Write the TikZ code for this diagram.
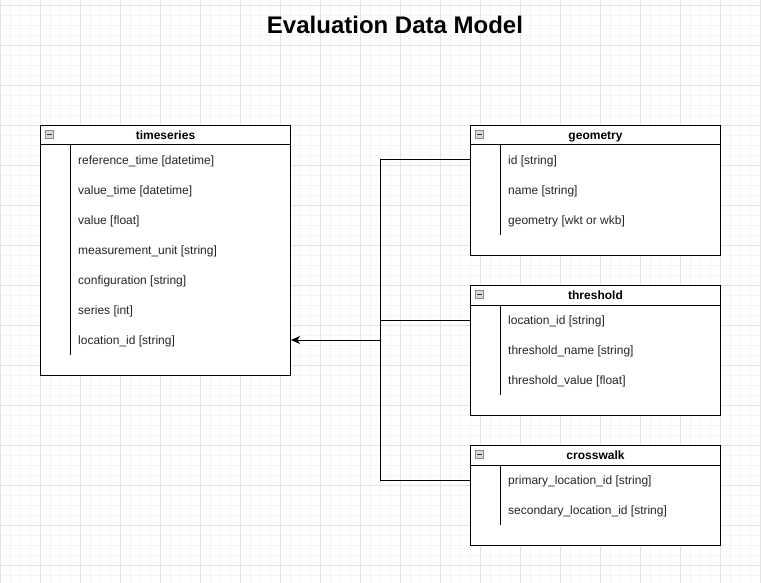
\documentclass[tikz,border=0pt]{standalone}
\usepackage{fontspec}
\setmainfont{Liberation Sans}
\usetikzlibrary{positioning, arrows.meta}

\begin{document}
\begin{tikzpicture}[x=1pt, y=-1pt,
	minorgrid/.style={draw=black!4, line width=0.8pt},
	majorgrid/.style={draw=black!11, line width=0.8pt},
	entity/.style={draw, line width=1pt, fill=white, anchor=north west, inner sep=0pt, minimum width=250pt},
	header/.style={text height=10pt, text depth=0.6pt, inner sep=0pt, font=\bfseries\fontsize{12}{14}\selectfont},
	field/.style={anchor=west, text height=10pt, text depth=0.6pt, inner sep=0pt, text=black!85, font=\fontsize{12}{14}\selectfont},
	fold/.style={draw=black!45, fill=black!15, line width=0.6pt, inner sep=0pt, minimum size=8pt,
		path picture={\draw[line width=1.2pt, black!80] ([xshift=1.8pt]path picture bounding box.west) -- ([xshift=-1.8pt]path picture bounding box.east);}},
	link/.style={line width=1pt}
	]

	\useasboundingbox (0,0) rectangle (761,583);
	\fill[white] (0,0) rectangle (761,583);

	% grid
	\foreach \x in {10,20,...,760} \draw[minorgrid] (\x,0) -- (\x,583);
	\foreach \y in {5,15,...,583} \draw[minorgrid] (0,\y) -- (761,\y);
	\foreach \x in {0,40,...,760} \draw[majorgrid] (\x,0) -- (\x,583);
	\foreach \y in {5,45,...,583} \draw[majorgrid] (0,\y) -- (761,\y);

	\node[font=\bfseries\fontsize{24}{28}\selectfont] (heading) at (395,25) {Evaluation Data Model};

	% timeseries
	\node[entity, minimum height=250pt] (ts) at (40,125) {};
	\draw[link] ([yshift=-20pt]ts.north west) -- ([yshift=-20pt]ts.north east);
	\draw[link] ([xshift=30pt, yshift=-20pt]ts.north west) -- ++(0,210);
	\node[header] (ts-head) at ([yshift=-10pt]ts.north) {timeseries};
	\node[fold] at ([xshift=9.5pt, yshift=-9.5pt]ts.north west) {};
	\foreach \name [count=\i] in {{reference\_time [datetime]}, {value\_time [datetime]}, {value [float]},
		{measurement\_unit [string]}, {configuration [string]}, {series [int]}, {location\_id [string]}}
		\node[field] (ts-\i) at (78, 130+30*\i) {\name};

	% geometry
	\node[entity, minimum height=130pt] (geo) at (470,125) {};
	\draw[link] ([yshift=-20pt]geo.north west) -- ([yshift=-20pt]geo.north east);
	\draw[link] ([xshift=30pt, yshift=-20pt]geo.north west) -- ++(0,90);
	\node[header] (geo-head) at ([yshift=-10pt]geo.north) {geometry};
	\node[fold] at ([xshift=9.5pt, yshift=-9.5pt]geo.north west) {};
	\foreach \name [count=\i] in {{id [string]}, {name [string]}, {geometry [wkt or wkb]}}
		\node[field] (geo-\i) at (508, 130+30*\i) {\name};

	% threshold
	\node[entity, minimum height=130pt] (thr) at (470,285) {};
	\draw[link] ([yshift=-20pt]thr.north west) -- ([yshift=-20pt]thr.north east);
	\draw[link] ([xshift=30pt, yshift=-20pt]thr.north west) -- ++(0,90);
	\node[header] (thr-head) at ([yshift=-10pt]thr.north) {threshold};
	\node[fold] at ([xshift=9.5pt, yshift=-9.5pt]thr.north west) {};
	\foreach \name [count=\i] in {{location\_id [string]}, {threshold\_name [string]}, {threshold\_value [float]}}
		\node[field] (thr-\i) at (508, 290+30*\i) {\name};

	% crosswalk
	\node[entity, minimum height=100pt] (cw) at (470,445) {};
	\draw[link] ([yshift=-20pt]cw.north west) -- ([yshift=-20pt]cw.north east);
	\draw[link] ([xshift=30pt, yshift=-20pt]cw.north west) -- ++(0,60);
	\node[header] (cw-head) at ([yshift=-10pt]cw.north) {crosswalk};
	\node[fold] at ([xshift=9.5pt, yshift=-9.5pt]cw.north west) {};
	\foreach \name [count=\i] in {{primary\_location\_id [string]}, {secondary\_location\_id [string]}}
		\node[field] (cw-\i) at (508, 450+30*\i) {\name};

	% links
	\coordinate (join) at (380,340);
	\draw[link] (geo-1 -| geo.west) -| (join);
	\draw[link] (thr-1 -| thr.west) -| (join);
	\draw[link] (cw-1 -| cw.west) -| (join);
	\draw[link, -{Stealth[length=9pt, width=8pt, inset=2.5pt]}] (join) -- (ts-7 -| ts.east);

\end{tikzpicture}
\end{document}
